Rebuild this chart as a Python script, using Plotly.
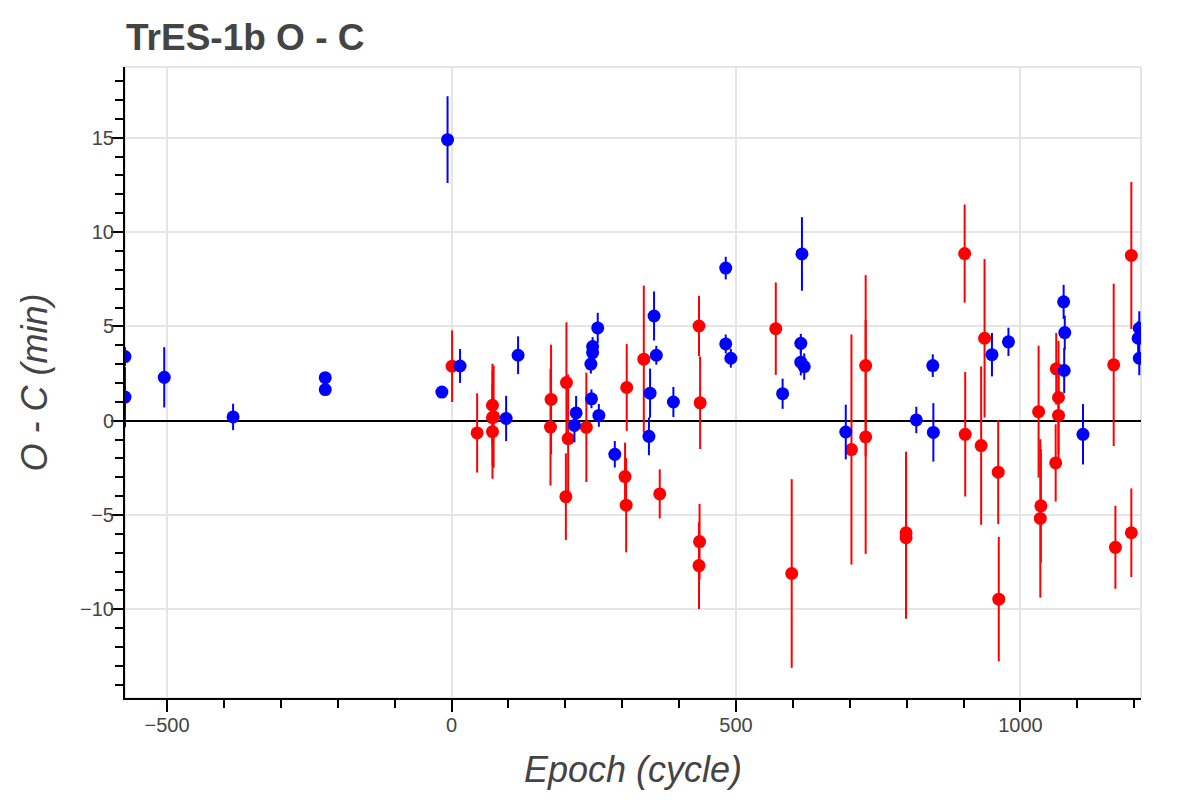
import plotly.graph_objects as go

# O - C timing residuals for TrES-1b
title = "TrES-1b O - C"

blue_epoch = [-574, -574, -505, -384, -222, -222, -17, -7, 15, 96, 117, 219, 216,
              248, 248, 245, 246, 259, 257, 287, 349, 347, 356, 360, 390, 482,
              482, 491, 582, 616, 614, 614, 620, 693, 817, 846, 847, 950, 979,
              1076, 1078, 1077, 1110, 1209, 1207, 1209]
blue_oc = [3.4, 1.25, 2.3, 0.2, 2.28, 1.65, 1.52, 14.9, 2.9, 0.12, 3.47, 0.41, -0.25,
           3.93, 3.61, 3.0, 1.16, 0.28, 4.92, -1.78, 1.46, -0.83, 5.55, 3.47, 0.99, 8.09,
           4.07, 3.31, 1.43, 8.84, 4.1, 3.1, 2.87, -0.6, 0.04, 2.92, -0.62, 3.5, 4.18,
           6.3, 4.67, 2.66, -0.72, 4.9, 4.37, 3.31]
blue_err = [0.5, 1.6, 1.6, 0.7, 0.3, 0.3, 0.3, 2.3, 0.9, 1.2, 1.0, 0.9, 0.9,
            0.5, 0.5, 0.5, 0.5, 0.6, 0.8, 0.7, 1.3, 1.0, 1.3, 0.5, 0.8, 0.6,
            0.5, 0.5, 0.8, 1.95, 0.5, 0.7, 0.7, 1.45, 0.7, 0.6, 1.55, 1.15, 0.75,
            0.9, 0.9, 1.2, 1.6, 0.9, 0.9, 0.9]

red_epoch = [1, 45, 72, 74, 72, 72, 175, 174, 202, 205, 201, 237, 308, 305, 307,
             338, 366, 435, 437, 436, 435, 598, 570, 728, 728, 703, 799, 799,
             902, 903, 931, 937, 961, 962, 1032, 1036, 1035, 1063, 1067, 1067,
             1062, 1164, 1167, 1195, 1195]
red_oc = [2.89, -0.65, 0.82, 0.21, 0.16, -0.58, 1.13, -0.34, 2.02, -0.95, -4.03, -0.35,
          1.76, -2.96, -4.48, 3.26, -3.88, 5.02, 0.95, -6.41, -7.68, -8.1, 4.88, 2.92,
          -0.86, -1.53, -5.94, -6.2, 8.86, -0.72, -1.32, 4.37, -2.73, -9.46, 0.48,
          -4.51, -5.18, 2.75, 1.23, 0.28, -2.24, 2.96, -6.71, 8.76, -5.94]
red_err = [1.9, 2.1, 2.2, 2.7, 2.5, 2.5, 2.9, 3.1, 3.2, 3.4, 2.3, 2.9,
           2.3, 1.8, 2.5, 3.9, 1.3, 1.6, 2.45, 2.0, 2.3, 5.0, 2.45, 4.8,
           6.2, 6.1, 4.3, 4.3, 2.6, 3.3, 4.2, 4.2, 2.75, 3.3, 3.5,
           3.0, 4.2, 1.9, 3.0, 2.5, 2.05, 4.3, 2.2, 3.9, 2.35]

font_name = "Liberation Sans, Arial, sans-serif"
text_col = "#444444"

fig = go.Figure()

fig.add_trace(go.Scatter(
    x=red_epoch, y=red_oc, mode="markers",
    marker=dict(color="#ff0000", size=13, line=dict(width=0)),
    error_y=dict(type="data", array=red_err, color="#ff0000", thickness=2, width=0),
    showlegend=False,
))
fig.add_trace(go.Scatter(
    x=blue_epoch, y=blue_oc, mode="markers",
    marker=dict(color="#0000ff", size=13, line=dict(width=0)),
    error_y=dict(type="data", array=blue_err, color="#0000ff", thickness=2, width=0),
    showlegend=False,
))

# light outline round the plot frame
fig.add_shape(type="rect", xref="paper", yref="paper", x0=0, x1=1, y0=0, y1=1,
              line=dict(color="#e5e5e5", width=2), layer="below")

# page body adds 8px, so margins are shifted back by that much
fig.update_layout(
    width=1200, height=800,
    paper_bgcolor="white", plot_bgcolor="white",
    margin=dict(l=117, r=67, t=59, b=110, pad=0),
    font=dict(family=font_name, color=text_col),
    title=dict(text="<b>" + title + "</b>", x=118 / 1200, xanchor="left",
               y=1 - 29 / 800, yanchor="middle", yref="container",
               font=dict(size=37, color=text_col, family=font_name)),
    xaxis=dict(
        range=[-574, 1212], showgrid=True, gridcolor="#e5e5e5", gridwidth=2,
        zeroline=False, showline=True, linecolor="black", linewidth=2,
        ticks="outside", ticklen=12, tickwidth=2, tickcolor="black",
        dtick=500, tick0=0, tickfont=dict(size=20, color=text_col),
        ticklabelstandoff=-4, automargin=False,
        minor=dict(ticks="outside", ticklen=8, tickwidth=2, tickcolor="black",
                   dtick=100, showgrid=False),
        title=dict(text="Epoch (cycle)", standoff=22,
                   font=dict(size=36, style="italic", color=text_col)),
    ),
    yaxis=dict(
        range=[-14.7, 18.75], showgrid=True, gridcolor="#e5e5e5", gridwidth=2,
        zeroline=True, zerolinecolor="black", zerolinewidth=2,
        showline=True, linecolor="black", linewidth=2,
        ticks="outside", ticklen=12, tickwidth=2, tickcolor="black",
        dtick=5, tick0=0, tickfont=dict(size=20, color=text_col),
        ticklabelstandoff=-7, automargin=False,
        minor=dict(ticks="outside", ticklen=8, tickwidth=2, tickcolor="black",
                   dtick=1, showgrid=False),
        title=dict(text="O - C (min)", standoff=21,
                   font=dict(size=36, style="italic", color=text_col)),
    ),
)

fig.write_html("out.html")
